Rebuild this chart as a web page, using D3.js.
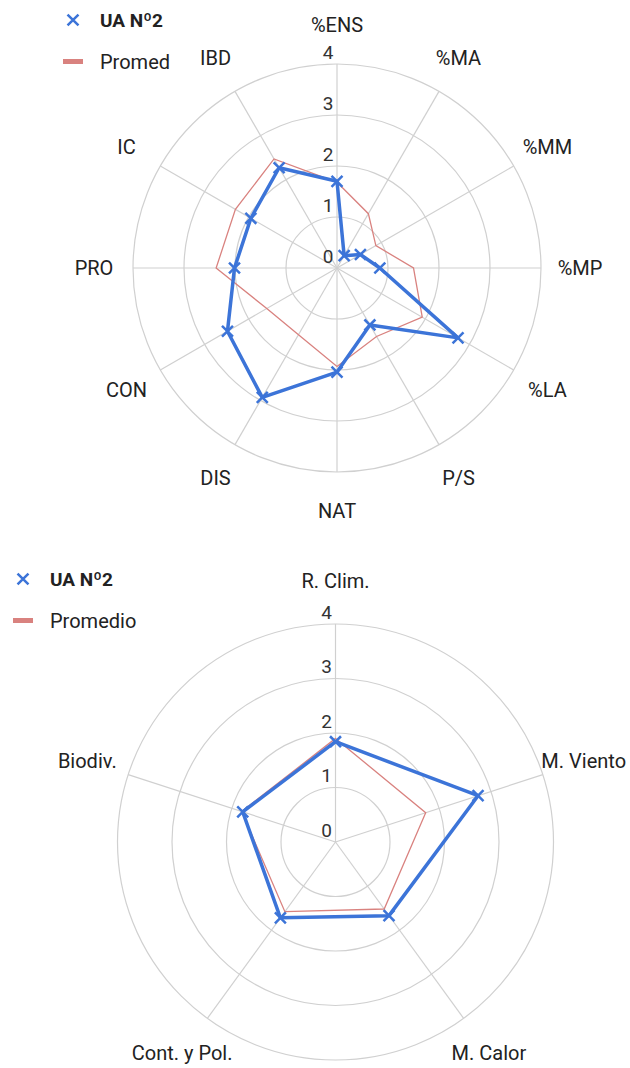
<!DOCTYPE html>
<html>
<head>
<meta charset="utf-8">
<script src="https://cdn.jsdelivr.net/npm/d3@7"></script>
<style>
  html, body { margin: 0; padding: 0; background: #fff; }
  svg { display: block; font-family: Roboto, "Noto Sans", sans-serif; }
</style>
</head>
<body>
<svg id="chart" width="630" height="1068"></svg>
<script>
// data
var ticks = [0, 1, 2, 3, 4];

var topAxes      = ["%ENS", "%MA", "%MM", "%MP", "%LA", "P/S", "NAT", "DIS", "CON", "PRO", "IC", "IBD"];
var topUA        = [1.70, 0.28, 0.53, 0.84, 2.74, 1.29, 2.04, 2.93, 2.48, 2.01, 1.95, 2.27];
var topPromedio  = [1.68, 1.23, 0.88, 1.50, 1.93, 1.55, 1.93, 1.51, 1.59, 2.37, 2.30, 2.47];
var topLegend    = ["UA Nº2", "Promed"];

var botAxes      = ["R. Clim.", "M. Viento", "M. Calor", "Cont. y Pol.", "Biodiv."];
var botUA        = [1.84, 2.75, 1.67, 1.72, 1.79];
var botPromedio  = [1.90, 1.74, 1.52, 1.58, 1.81];
var botLegend    = ["UA Nº2", "Promedio"];

var blue = "#3c74d8";
var red  = "#d9827f";
var grid = "#d0d0d0";

var svg = d3.select("#chart");

/**
 * Draws one radar chart.
 * opts: cx, cy, radius, labelRadius, axes, ua, promedio, legend, legendX, legendY
 */
function drawRadar(opts)
{
  var g = svg.append("g").attr("transform", "translate(" + opts.cx + "," + opts.cy + ")");
  var n = opts.axes.length;

  var r = d3.scaleLinear().domain([0, 4]).range([0, opts.radius]);
  var angle = function (i) { return i * 2 * Math.PI / n; };

  // rings
  g.selectAll("circle.ring")
    .data(ticks.filter(function (t) { return t > 0; }))
    .enter().append("circle")
    .attr("r", function (t) { return r(t); })
    .attr("fill", "none")
    .attr("stroke", grid)
    .attr("stroke-width", 1.2);

  // spokes
  g.selectAll("line.spoke")
    .data(opts.axes)
    .enter().append("line")
    .attr("x1", 0).attr("y1", 0)
    .attr("x2", function (d, i) { return Math.sin(angle(i)) * r(4); })
    .attr("y2", function (d, i) { return -Math.cos(angle(i)) * r(4); })
    .attr("stroke", grid)
    .attr("stroke-width", 1.2);

  // axis labels
  g.selectAll("text.axis")
    .data(opts.axes)
    .enter().append("text")
    .attr("x", function (d, i) { return Math.sin(angle(i)) * opts.labelRadius; })
    .attr("y", function (d, i) { return -Math.cos(angle(i)) * opts.labelRadius; })
    .attr("text-anchor", "middle")
    .attr("dominant-baseline", "central")
    .attr("font-size", 20)
    .attr("fill", "#222")
    .text(function (d) { return d; });

  // tick labels
  g.selectAll("text.tick")
    .data(ticks)
    .enter().append("text")
    .attr("x", -9)
    .attr("y", function (t) { return -r(t) - 12; })
    .attr("text-anchor", "middle")
    .attr("dominant-baseline", "central")
    .attr("font-size", 19)
    .attr("fill", "#333")
    .text(function (t) { return t; });

  var line = d3.lineRadial()
    .angle(function (d, i) { return angle(i); })
    .radius(function (d) { return r(d); })
    .curve(d3.curveLinearClosed);

  // promedio
  g.append("path")
    .attr("d", line(opts.promedio))
    .attr("fill", "none")
    .attr("stroke", red)
    .attr("stroke-width", 1.3);

  // UA
  g.append("path")
    .attr("d", line(opts.ua))
    .attr("fill", "none")
    .attr("stroke", blue)
    .attr("stroke-width", 3.5)
    .attr("stroke-linejoin", "round");

  var marker = d3.symbol().type(d3.symbolX).size(80);

  g.selectAll("path.mark")
    .data(opts.ua)
    .enter().append("path")
    .attr("d", marker)
    .attr("transform", function (d, i) {
      return "translate(" + (Math.sin(angle(i)) * r(d)) + "," + (-Math.cos(angle(i)) * r(d)) + ")";
    })
    .attr("stroke", blue)
    .attr("stroke-width", 2.5);

  // legend
  var lg = svg.append("g").attr("transform", "translate(" + opts.legendX + "," + opts.legendY + ")");

  lg.append("path")
    .attr("d", marker)
    .attr("transform", "translate(0,0)")
    .attr("stroke", blue)
    .attr("stroke-width", 2.5);

  lg.append("text")
    .attr("x", 27).attr("y", 0)
    .attr("dominant-baseline", "central")
    .attr("font-size", 19)
    .attr("font-weight", "bold")
    .attr("fill", "#222")
    .text(opts.legend[0]);

  lg.append("rect")
    .attr("x", -10).attr("y", 39)
    .attr("width", 20).attr("height", 5)
    .attr("fill", red);

  lg.append("text")
    .attr("x", 27).attr("y", 41.5)
    .attr("dominant-baseline", "central")
    .attr("font-size", 20)
    .attr("fill", "#222")
    .text(opts.legend[1]);
}

drawRadar({
  cx: 337, cy: 268, radius: 204, labelRadius: 243,
  axes: topAxes, ua: topUA, promedio: topPromedio,
  legend: topLegend, legendX: 73, legendY: 20
});

drawRadar({
  cx: 335.5, cy: 842, radius: 218, labelRadius: 261,
  axes: botAxes, ua: botUA, promedio: botPromedio,
  legend: botLegend, legendX: 23, legendY: 579
});
</script>
</body>
</html>
